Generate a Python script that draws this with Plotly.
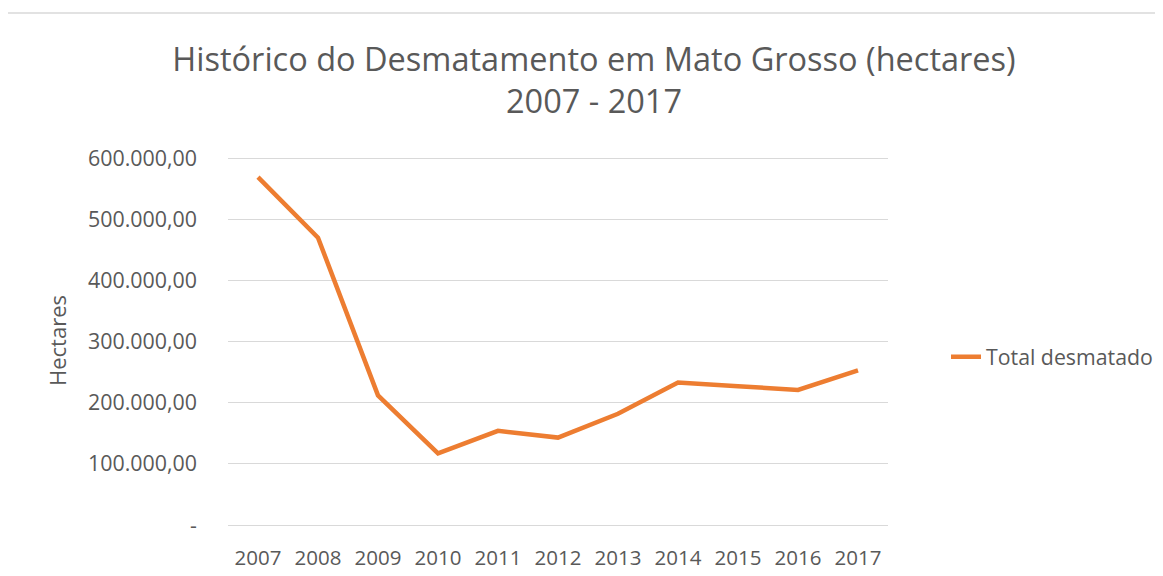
import plotly.graph_objects as go

years = ["2007", "2008", "2009", "2010", "2011", "2012", "2013", "2014", "2015", "2016", "2017"]
total_desmatado = [569000, 470000, 212000, 117000, 154000, 143000, 182000, 233000, 227000, 221000, 253000]
y_tick_vals = [0, 100000, 200000, 300000, 400000, 500000, 600000]
y_tick_text = ["-", "100.000,00", "200.000,00", "300.000,00", "400.000,00", "500.000,00", "600.000,00"]

OFF = 8  # default body margin of the page
W, H = 1163 - OFF, 576 - OFF
# plot area in page pixel coordinates
L, R, T, B = 228, 888, 157, 525
pw, ph = R - L, B - T

def px2x(px):
    return (px - L) / pw

def py2y(py):
    return (B - py) / ph

FONT = "Open Sans"
GREY = "#595959"

fig = go.Figure()
fig.add_trace(go.Scatter(
    x=years, y=total_desmatado, mode="lines", name="Total desmatado",
    line=dict(color="#ED7D31", width=4.5),
))

fig.update_layout(
    width=W, height=H,
    margin=dict(l=L - OFF, r=(1163 - R), t=T - OFF, b=(576 - B), pad=0, autoexpand=False),
    paper_bgcolor="white", plot_bgcolor="white",
    title=dict(
        text="Histórico do Desmatamento em Mato Grosso (hectares)<br>2007 - 2017",
        x=(594 - OFF) / W, xref="container", xanchor="center",
        y=1 - 63 / H, yref="container", yanchor="top",
        font=dict(family=FONT, size=32.5, color=GREY),
    ),
    showlegend=True,
    legend=dict(
        x=px2x(946), xanchor="left", y=py2y(357), yanchor="middle",
        font=dict(family=FONT, size=21.3, color=GREY),
        bgcolor="rgba(0,0,0,0)",
    ),
    xaxis=dict(
        type="category", range=[-0.5, 10.5],
        showgrid=False, showline=True, linecolor="#D9D9D9", linewidth=1.3,
        ticks="", tickfont=dict(family=FONT, size=20.5, color=GREY),
        ticklabelstandoff=14, automargin=False,
    ),
    yaxis=dict(
        range=[0, 602000], tickvals=y_tick_vals, ticktext=y_tick_text,
        showgrid=True, gridcolor="#D9D9D9", gridwidth=1.3,
        zeroline=False, showline=False, ticks="",
        tickfont=dict(family=FONT, size=21.4, color=GREY),
        ticklabelstandoff=30, automargin=False,
    ),
    shapes=[dict(
        type="rect", xref="paper", yref="paper",
        x0=px2x(4), x1=px2x(1300), y0=py2y(700), y1=py2y(13),
        line=dict(color="#D9D9D9", width=1.3), fillcolor="rgba(0,0,0,0)", layer="below",
    )],
    annotations=[dict(
        text="Hectares", textangle=-90, xref="paper", yref="paper",
        x=px2x(57), y=py2y(341), xanchor="center", yanchor="middle", showarrow=False,
        font=dict(family=FONT, size=22, color=GREY),
    )],
)

fig.write_html("out.html")
